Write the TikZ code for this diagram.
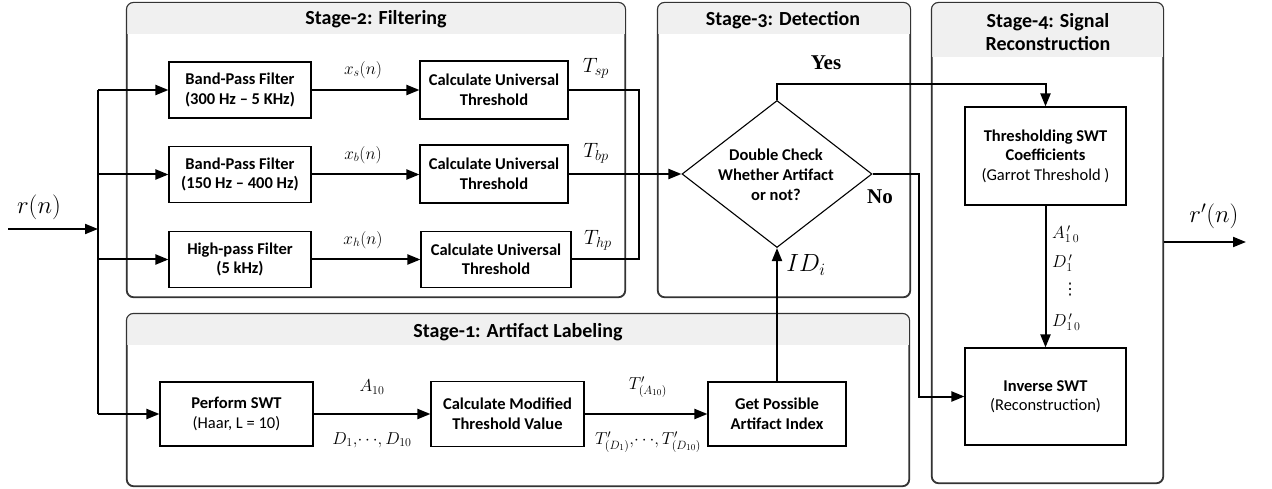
\documentclass[tikz,border=0pt]{standalone}
\usepackage{fontspec}
\setmainfont{Carlito}
\newfontfamily\titlefont[Numbers=OldStyle]{Carlito}
\newfontfamily\serifbold{Liberation Serif}
\newfontfamily\dejavu{DejaVu Sans}
\usetikzlibrary{arrows.meta,shapes.geometric}
\begin{document}
\begin{tikzpicture}[x=1pt,y=-1pt,
  frame/.style={draw=black!80, line width=1.1pt, rounded corners=7pt, inner sep=0pt},
  hdrfill/.style={fill=black!6, sharp corners},
  ttl/.style={font=\titlefont\bfseries\fontsize{20}{23}\selectfont, align=center, inner sep=0pt},
  box/.style={draw, line width=1.1pt, fill=white, align=center, inner sep=0pt, font=\bfseries\fontsize{16.5}{19.5}\selectfont},
  lbl/.style={inner sep=0pt, font=\fontsize{18}{20}\selectfont},
  biglbl/.style={inner sep=0pt, font=\fontsize{21}{23}\selectfont},
  yn/.style={inner sep=0pt, font=\serifbold\bfseries\fontsize{21}{23}\selectfont},
  conn/.style={line width=2pt},
  arr/.style={conn, -{Triangle[length=13pt,width=10pt]}},
  ]
\useasboundingbox (0,0) rectangle (1272,489);

% stage frames
\node[frame, minimum width=498pt, minimum height=294pt] (s2) at (376,150) {};
\node[frame, minimum width=252pt, minimum height=294pt] (s3) at (784,150) {};
\node[frame, minimum width=231pt, minimum height=480pt] (s4) at (1047.5,243) {};
\node[frame, minimum width=782pt, minimum height=172pt] (s1) at (518,400) {};
% headers
\begin{scope}
  \clip[rounded corners=7pt] (s2.north west) rectangle (s2.south east);
  \fill[hdrfill] (s2.north west) rectangle ([yshift=-32pt]s2.north east);
\end{scope}
\begin{scope}
  \clip[rounded corners=7pt] (s3.north west) rectangle (s3.south east);
  \fill[hdrfill] (s3.north west) rectangle ([yshift=-32pt]s3.north east);
\end{scope}
\begin{scope}
  \clip[rounded corners=7pt] (s4.north west) rectangle (s4.south east);
  \fill[hdrfill] (s4.north west) rectangle ([yshift=-55pt]s4.north east);
\end{scope}
\begin{scope}
  \clip[rounded corners=7pt] (s1.north west) rectangle (s1.south east);
  \fill[hdrfill] (s1.north west) rectangle ([yshift=-32pt]s1.north east);
\end{scope}
\draw[frame] (s2.north west) rectangle (s2.south east);
\draw[frame] (s3.north west) rectangle (s3.south east);
\draw[frame] (s4.north west) rectangle (s4.south east);
\draw[frame] (s1.north west) rectangle (s1.south east);

\node[ttl] (t2) at (376,19) {Stage-2: Filtering};
\node[ttl] (t3) at (783,20) {Stage-3: Detection};
\node[ttl] (t4) at (1048,32) {Stage-4: Signal\\Reconstruction};
\node[ttl] (t1) at (518,332) {Stage-1: Artifact Labeling};

% stage 2 boxes
\node[box, minimum width=142pt, minimum height=56pt] (bp1) at (240,90) {Band-Pass Filter\\(300 Hz -- 5 KHz)};
\node[box, minimum width=142pt, minimum height=56pt] (bp2) at (240,174.5) {Band-Pass Filter\\(150 Hz -- 400 Hz)};
\node[box, minimum width=142pt, minimum height=56pt] (hp) at (240,259.5) {High-pass Filter\\(5 kHz)};
\node[box, minimum width=148pt, minimum height=58pt] (ut1) at (494,90) {Calculate Universal\\Threshold};
\node[box, minimum width=148pt, minimum height=58pt] (ut2) at (494,174) {Calculate Universal\\Threshold};
\node[box, minimum width=150pt, minimum height=56pt] (ut3) at (496,259.5) {Calculate Universal\\Threshold};

% stage 3
\node[diamond, draw, line width=1.1pt, fill=white, minimum width=190pt, minimum height=147pt, inner sep=0pt] (dc) at (777,174) {};
\node[inner sep=0pt, align=center, font=\bfseries\fontsize{16.5}{20}\selectfont] (dct) at (776,175) {Double Check\\Whether Artifact\\or not?};

% stage 4
\node[box, minimum width=161pt, minimum height=98pt] (ts) at (1045.5,156) {Thresholding SWT\\Coefficients\\{\mdseries (Garrot Threshold )}};
\node[box, minimum width=161pt, minimum height=97pt] (is) at (1045.5,396.5) {Inverse SWT\\{\mdseries (Reconstruction)}};

% stage 1
\node[box, minimum width=153pt, minimum height=64pt] (sw) at (236.5,414) {Perform SWT\\{\mdseries (Haar, L = 10)}};
\node[box, minimum width=153pt, minimum height=65pt] (cm) at (507.5,414) {Calculate Modified\\Threshold Value};
\node[box, minimum width=138pt, minimum height=64pt] (gp) at (777,414) {Get Possible\\Artifact Index};

% input
\coordinate (rin) at (8,229);
\coordinate (bus) at (98,229);
\node[inner sep=0pt, font=\fontsize{26}{28}\selectfont] (rlab) at (39,207) {$r(n)$};
\draw[arr] (rin) -- (bus);
\draw[conn] (bus |- bp1) -- (bus |- sw);
\draw[arr] (bus |- bp1) -- (bp1.west);
\draw[arr] (bus |- bp2) -- (bp2.west);
\draw[arr] (bus |- hp) -- (hp.west);
\draw[arr] (bus |- sw) -- (sw.west);

% stage 2 connectors
\draw[arr] (bp1.east) -- (ut1.west);
\draw[arr] (bp2.east) -- (bp2.east -| ut2.west);
\draw[arr] (hp.east) -- (ut3.west);
\node[lbl] (xs) at (363,70) {$x_s(n)$};
\node[lbl] (xb) at (363,155) {$x_b(n)$};
\node[lbl] (xh) at (363,240) {$x_h(n)$};
\coordinate (mg) at (639,174);
\draw[conn] (ut1.east) -- (ut1.east -| mg) -- (ut3.east -| mg) -- (ut3.east);
\draw[arr] (ut2.east) -- (dc.west);
\node[biglbl] (tsp) at (596,68) {$T_{sp}$};
\node[biglbl] (tbp) at (596,153) {$T_{bp}$};
\node[biglbl] (thp) at (598,240) {$T_{hp}$};

% stage 1 connectors
\draw[arr] (sw.east) -- (sw.east -| cm.west);
\draw[arr] (cm.east) -- (cm.east -| gp.west);
\node[lbl] (a10) at (372,387) {$A_{10}$};
\node[lbl] (d110) at (372,440) {$D_1,\!\cdots\!,D_{10}$};
\node[lbl] (ta10) at (648,387) {$T'_{(A_{10})}$};
\node[lbl] (td110) at (648,442) {$T'_{(D_1)},\!\cdots\!,T'_{(D_{10})}$};
\draw[arr] (gp.north) -- (dc.south);
\node[inner sep=0pt, font=\fontsize{24}{26}\selectfont] (idi) at (806,265) {$ID_i$};

% yes / no
\coordinate (yy) at (777,84);
\draw[arr] (dc.north) -- (yy) -| (ts.north);
\node[yn] (yes) at (826,63) {Yes};
\coordinate (nn) at (918.5,174);
\draw[arr] (dc.east) -- (nn) |- (is.west);
\node[yn] (no) at (880,197) {No};

% reconstruction
\draw[arr] (ts.south) -- (is.north);
\node[lbl, anchor=west] (ap) at (1052,234) {$A^{\,\prime}_{1\,0}$};
\node[lbl, anchor=west] (d1p) at (1052,263) {$D^{\,\prime}_{1}$};
\node[inner sep=0pt, font=\dejavu\fontsize{16}{18}\selectfont] (vd) at (1070,290) {⋮};
\node[lbl, anchor=west] (d10p) at (1052,322) {$D^{\,\prime}_{1\,0}$};

\coordinate (rout) at (1246,242);
\draw[arr] (rout -| s4.east) -- (rout);
\node[inner sep=0pt, font=\fontsize{26}{28}\selectfont] (rplab) at (1214,216) {$r'(n)$};
\end{tikzpicture}
\end{document}
